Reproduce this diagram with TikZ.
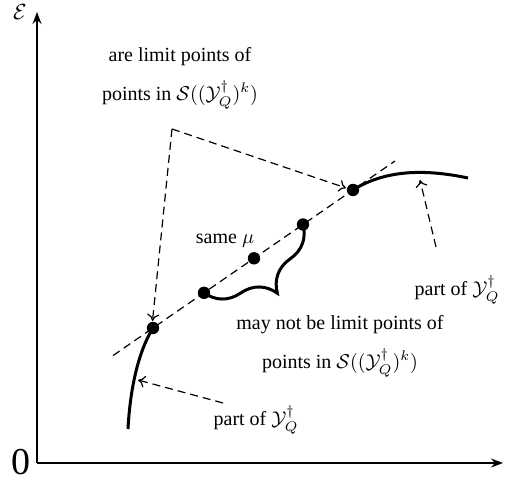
\documentclass[tikz,border=0pt]{standalone}
\usepackage{fontspec}
\setmainfont{Liberation Serif}
\usepackage{amsmath,amssymb}
\usepackage{tikz}
\usetikzlibrary{calc,arrows.meta,decorations.pathreplacing}
\newcommand{\Ydag}{\mathcal{Y}^{\dagger}_{Q}}

\begin{document}
\begin{tikzpicture}[x=0.5pt,y=-0.5pt,
  axis/.style={line width=0.75pt,-{Stealth[length=6pt,width=4.5pt,inset=2pt]}},
  curve/.style={line width=1.5pt},
  guide/.style={line width=0.6pt,dash pattern=on 4pt off 2.5pt},
  pointer/.style={guide,-{To[length=3.5pt,width=6pt]}},
  dot/.style={circle,fill=black,inner sep=0pt,minimum size=6.2pt},
  lbl/.style={font=\fontsize{10}{19.5}\selectfont,align=center,inner sep=0pt}]
  \useasboundingbox (0,0) rectangle (510,480);
  % axes
  \coordinate (O) at (37,463);
  \coordinate (ytop) at (37,12);
  \coordinate (xend) at (503,463);
  \draw[axis] (O) -- (ytop);
  \draw[axis] (O) -- (xend);
  \node[font=\fontsize{11}{11}\selectfont,inner sep=0pt] (elab) at (20,12) {$\mathcal{E}$};
  \node[font=\fontsize{19}{19}\selectfont,inner sep=0pt] (zero) at (21,462) {0};
  % tangent line and points on it
  \coordinate (lnA) at (113,355.6);
  \coordinate (lnB) at (395,161);
  \draw[guide] (lnA) -- (lnB);
  \foreach \nm/\t in {pA/0,pB/0.255,pC/0.505,pD/0.75,pE/1}
    \coordinate (\nm) at ({153+200*\t},{328-138*\t});
  % parts of the curve
  \draw[curve] (128,429) .. controls (130,390) and (138,352) .. (pA);
  \draw[curve] (pE) .. controls (388,168) and (430,170) .. (468,178);
  % brace
  \draw[curve,decorate,decoration={brace,amplitude=21pt}] (pD) -- (pB);
  \foreach \nm in {pA,pB,pC,pD,pE}
    \node[dot] at (\nm) {};
  % labels
  \coordinate (apex) at (172,129);
  \node[lbl] (limlab) at (180,78) {are limit points of\\points in $\mathcal{S}((\Ydag)^k)$};
  \draw[pointer] (apex) -- ($(pA)+(-0.5,-7)$);
  \draw[pointer] (apex) -- ($(pE)+(-7,-2)$);
  \node[lbl] (mulab) at (225,241) {same $\mu$};
  \node[lbl] (notlab) at (340,346) {may not be limit points of\\points in $\mathcal{S}((\Ydag)^k)$};
  \node[lbl] (lowlab) at (256,420) {part of $\Ydag$};
  \coordinate (lowtail) at (223,403);
  \coordinate (lowtip) at (138,380);
  \draw[pointer] (lowtail) -- (lowtip);
  \node[lbl] (uplab) at (457,290) {part of $\Ydag$};
  \coordinate (uptail) at (436,247);
  \coordinate (uptip) at (420,180);
  \draw[pointer] (uptail) -- (uptip);
\end{tikzpicture}
\end{document}
